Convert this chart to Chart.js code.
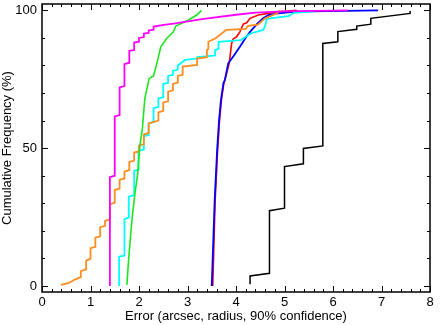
<!DOCTYPE html>
<html>
<head>
<meta charset="utf-8">
<script src="https://cdn.jsdelivr.net/npm/chart.js@4.4.1/dist/chart.umd.min.js"></script>
<style>
  html, body { margin: 0; padding: 0; background: #fff; }
</style>
</head>
<body>
<canvas id="chart" width="442" height="325"></canvas>
<script>
// cumulative error distributions, x = error (arcsec), y = cumulative %
const magentaX = [1.4, 1.4, 1.5, 1.5, 1.6, 1.6, 1.7, 1.7, 1.8, 1.8, 1.9, 1.9, 2.0, 2.0, 2.1, 2.1, 2.2, 2.2, 2.3, 2.3, 2.55, 2.75, 3.3, 4.0, 4.4, 5.0, 6.3];
const magentaY = [0, 39.5, 40, 61.5, 62, 72, 72.5, 80.5, 81, 85.3, 85.6, 88.3, 88.6, 90, 90.3, 91.6, 91.8, 92.7, 93, 94.1, 94.8, 95.3, 96.8, 98.4, 99.2, 99.6, 100];

const greenX = [1.75, 1.79, 1.86, 1.92, 1.97, 2.02, 2.07, 2.12, 2.21, 2.3, 2.36, 2.45, 2.57, 2.71, 2.76, 2.9, 3.02, 3.19, 3.29];
const greenY = [0.4, 10.6, 25, 34, 40.3, 51, 57.2, 68, 75.3, 76.2, 80.2, 86.8, 89.8, 92.2, 94.3, 95.5, 96.5, 98.3, 100];

const orangeX = [0.39, 0.54, 0.69, 0.8, 0.8, 0.91, 0.91, 1.0, 1.0, 1.1, 1.1, 1.2, 1.2, 1.3, 1.3, 1.4, 1.4, 1.5, 1.5, 1.6, 1.6, 1.7, 1.7, 1.8, 1.8, 1.9, 1.9, 2.0, 2.0, 2.1, 2.1, 2.2, 2.2, 2.4, 2.4, 2.5, 2.5, 2.6, 2.6, 2.7, 2.7, 2.8, 2.8, 2.9, 2.9, 3.2, 3.2, 3.4, 3.4, 3.43, 3.43, 3.57, 3.62, 3.8, 4.2, 4.25, 4.45, 4.6, 4.85, 4.9];
const orangeY = [0.4, 1.0, 2.4, 3.2, 5.4, 6, 9.2, 9.8, 13.7, 14.2, 17.5, 18, 21.3, 21.8, 23.6, 24.2, 29.6, 30.2, 34.8, 35.3, 38.5, 39, 41.5, 42, 45, 45.5, 48.4, 48.8, 51, 51.4, 55, 55.5, 59, 60, 63, 63.5, 66.6, 67, 70.5, 71, 73.3, 73.8, 76.2, 76.6, 79.6, 80.2, 82.5, 83, 85.6, 86, 88.6, 89.8, 90.4, 92.9, 93.3, 94.4, 94.8, 97.1, 98.9, 100];

const cyanX = [1.59, 1.59, 1.7, 1.7, 1.79, 1.79, 1.9, 1.9, 1.99, 1.99, 2.1, 2.1, 2.2, 2.2, 2.3, 2.3, 2.4, 2.4, 2.5, 2.5, 2.6, 2.6, 2.7, 2.7, 2.8, 2.8, 2.95, 3.2, 3.2, 3.57, 3.57, 3.64, 3.64, 4.1, 4.3, 4.56, 4.6, 4.63, 4.7, 5.08, 5.2, 5.6];
const cyanY = [0, 10.6, 11, 24.2, 24.8, 32.4, 33, 41.7, 42.2, 49, 49.5, 54.4, 54.8, 59, 59.5, 64.5, 65, 68, 68.5, 73.3, 73.7, 76.2, 76.6, 78, 78.5, 80, 82, 82.5, 83, 83.6, 85.6, 86, 88.6, 89.2, 91.6, 92.9, 94.3, 96.7, 97.1, 97.9, 99.1, 99.6];

const redX = [3.52, 3.57, 3.62, 3.66, 3.7, 3.75, 3.77, 3.86, 3.91, 3.94, 4.01, 4.08, 4.15, 4.22, 4.29, 4.46, 4.67, 4.87, 5.25];
const redY = [0, 31, 49, 60, 67.5, 73.5, 74.7, 80.8, 88, 89.6, 90.4, 92.2, 95, 95.5, 97.1, 98.3, 98.9, 99.5, 100];

const blueX = [3.5, 3.56, 3.61, 3.65, 3.69, 3.74, 3.77, 3.84, 3.94, 4.08, 4.19, 4.29, 4.43, 4.56, 4.67, 4.87, 5.22, 6.93];
const blueY = [0, 31, 49, 60, 67.5, 73.5, 74.7, 80.8, 83.2, 86.8, 89.8, 92.2, 95, 97.1, 98.3, 98.9, 99.5, 100];

const blackX = [4.29, 4.29, 4.69, 4.69, 5.0, 5.0, 5.39, 5.39, 5.79, 5.79, 6.1, 6.1, 6.49, 6.49, 6.78, 6.78, 7.59, 7.59];
const blackY = [0.6, 3.6, 4.6, 27.3, 28.2, 43.3, 44.3, 49.9, 50.8, 88, 88.6, 92.3, 93.1, 94.3, 95, 97.1, 98.9, 99.8];

const xTicks = [0, 1, 2, 3, 4, 5, 6, 7, 8];
const yTicks = [0, 50, 100];

const toPoints = (xs, ys) => xs.map((x, i) => ({ x, y: ys[i] }));

function series(xs, ys, color, width) {
  return {
    data: toPoints(xs, ys),
    borderColor: color,
    borderWidth: width,
    showLine: true,
    pointRadius: 0,
    tension: 0,
    fill: false
  };
}

const font = { family: 'Liberation Sans, Arial, sans-serif', size: 13 };

// gnuplot/grace style frame with inward ticks on all four sides
const frameTicks = {
  id: 'frameTicks',
  afterDraw(chart) {
    const { ctx, chartArea: a, scales: { x, y } } = chart;
    ctx.save();
    ctx.strokeStyle = '#000';
    ctx.lineWidth = 1;
    ctx.beginPath();
    for (let i = 0; i <= 40; i++) {
      const v = i * 0.2;
      const p = Math.round(x.getPixelForValue(v)) + 0.5;
      const len = i % 5 === 0 ? 6 : 3;
      ctx.moveTo(p, a.bottom); ctx.lineTo(p, a.bottom - len);
      ctx.moveTo(p, a.top); ctx.lineTo(p, a.top + len);
    }
    for (let i = 0; i <= 10; i++) {
      const v = i * 10;
      const p = Math.round(y.getPixelForValue(v)) + 0.5;
      const len = i % 5 === 0 ? 6 : 3;
      ctx.moveTo(a.left, p); ctx.lineTo(a.left + len, p);
      ctx.moveTo(a.right, p); ctx.lineTo(a.right - len, p);
    }
    ctx.stroke();
    ctx.lineWidth = 1.5;
    ctx.strokeRect(a.left, a.top, a.right - a.left, a.bottom - a.top);
    ctx.restore();
  }
};

new Chart(document.getElementById('chart'), {
  type: 'scatter',
  data: {
    datasets: [
      series(magentaX, magentaY, '#ff00ff', 1.8),
      series(greenX, greenY, '#1ee61e', 1.6),
      series(orangeX, orangeY, '#ff8c1e', 1.8),
      series(cyanX, cyanY, '#00ffff', 1.8),
      series(blueX, blueY, '#0000ff', 1.8),
      series(redX, redY, '#ff0000', 1.6),
      series(blackX, blackY, '#000000', 1.5)
    ]
  },
  options: {
    responsive: false,
    animation: false,
    devicePixelRatio: 1,
    layout: { padding: { top: 4, right: 12, left: 0, bottom: 0 } },
    plugins: { legend: { display: false }, tooltip: { enabled: false } },
    scales: {
      x: {
        type: 'linear',
        min: 0,
        max: 8,
        grid: { display: false, drawTicks: false },
        border: { display: false },
        ticks: { color: '#000', font, padding: 3, maxRotation: 0 },
        afterBuildTicks: s => { s.ticks = xTicks.map(v => ({ value: v })); },
        afterFit: s => { s.height = 33; s.paddingLeft = 0; s.paddingRight = 0; },
        title: {
          display: true,
          text: 'Error (arcsec, radius, 90% confidence)',
          color: '#000',
          font,
          padding: { top: 0, bottom: 1 }
        }
      },
      y: {
        type: 'linear',
        min: -2.2,
        max: 102.3,
        grid: { display: false, drawTicks: false },
        border: { display: false },
        ticks: { color: '#000', font, padding: 5 },
        afterBuildTicks: s => { s.ticks = yTicks.map(v => ({ value: v })); },
        afterFit: s => { s.width = 42; s.paddingTop = 0; s.paddingBottom = 0; },
        title: {
          display: true,
          text: 'Cumulative Frequency (%)',
          color: '#000',
          font,
          padding: { top: 0, bottom: 0 }
        }
      }
    }
  },
  plugins: [frameTicks]
});
</script>
</body>
</html>
